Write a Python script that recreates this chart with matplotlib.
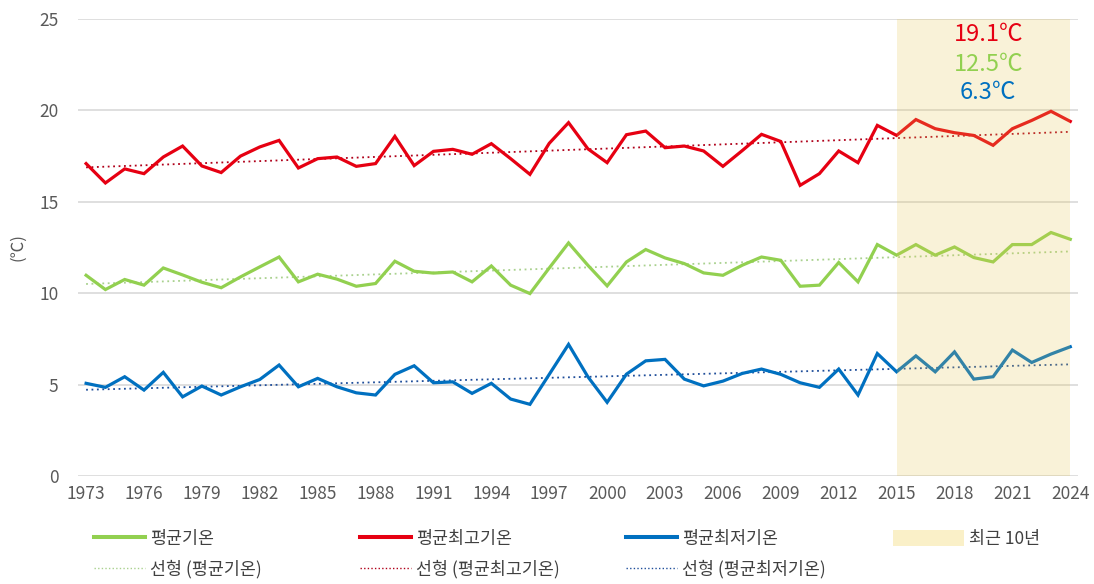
import numpy as np
import matplotlib
matplotlib.use("Agg")
import matplotlib.pyplot as plt
from matplotlib.lines import Line2D
from matplotlib.patches import Patch

plt.rcParams['font.family'] = ['Noto Sans CJK KR', 'DejaVu Sans']

years = list(range(1973, 2025))

t_mean = [10.98, 10.2, 10.75, 10.44, 11.38, 11.0, 10.6, 10.3, 10.89, 11.44,
          11.98, 10.62, 11.04, 10.77, 10.38, 10.53, 11.75, 11.2, 11.1, 11.16,
          10.62, 11.49, 10.44, 9.98, 11.38, 12.75, 11.53, 10.4, 11.71, 12.39,
          11.93, 11.62, 11.11, 10.98, 11.53, 11.98, 11.8, 10.38, 10.44, 11.68,
          10.62, 12.66, 12.08, 12.66, 12.08, 12.53, 11.95, 11.71, 12.66, 12.66,
          13.32, 12.95]

t_max = [17.09, 16.03, 16.8, 16.54, 17.45, 18.05, 16.96, 16.6, 17.5, 18.0,
         18.36, 16.85, 17.36, 17.45, 16.94, 17.09, 18.58, 16.98, 17.76, 17.87,
         17.6, 18.18, 17.36, 16.5, 18.2, 19.33, 17.9, 17.14, 18.67, 18.87,
         17.96, 18.05, 17.78, 16.94, 17.8, 18.69, 18.3, 15.9, 16.54, 17.78,
         17.14, 19.18, 18.63, 19.5, 19.0, 18.78, 18.63, 18.09, 19.0, 19.45,
         19.95, 19.4]

t_min = [5.07, 4.85, 5.43, 4.7, 5.67, 4.33, 4.92, 4.43, 4.88, 5.28,
         6.07, 4.88, 5.34, 4.88, 4.55, 4.43, 5.56, 6.03, 5.1, 5.15,
         4.52, 5.07, 4.21, 3.92, 5.56, 7.2, 5.43, 4.03, 5.57, 6.3,
         6.38, 5.3, 4.93, 5.19, 5.61, 5.85, 5.56, 5.1, 4.85, 5.85,
         4.43, 6.7, 5.7, 6.57, 5.7, 6.79, 5.3, 5.43, 6.89, 6.21,
         6.67, 7.07]

recent_labels = ["19.1℃", "12.5℃", "6.3℃"]
xtick_years = list(range(1973, 2025, 3))
ytick_vals = [0, 5, 10, 15, 20, 25]

series_names = ["평균기온", "평균최고기온", "평균최저기온"]
trend_names = ["선형 (평균기온)", "선형 (평균최고기온)", "선형 (평균최저기온)"]
shade_name = "최근 10년"

c_mean, c_max, c_min = '#92D050', '#E60012', '#0070C0'
ct_mean, ct_max, ct_min = '#A9D18E', '#B0001A', '#1F4E9A'
tick_color = '#595959'
text_color = '#404040'

fig = plt.figure(figsize=(10.94, 5.84), dpi=100)
ax = fig.add_axes([78/1094, (584-476)/584, 1000/1094, (476-19)/584])

yrs = np.array(years, dtype=float)

lines = []
trends = []
for vals, c, ct in [(t_mean, c_mean, ct_mean), (t_max, c_max, ct_max), (t_min, c_min, ct_min)]:
    l, = ax.plot(years, vals, color=c, lw=2.3, solid_joinstyle='miter', zorder=3)
    p = np.polyfit(yrs, np.array(vals), 1)
    tr, = ax.plot(years, np.polyval(p, yrs), color=ct, lw=1.3, ls=(0, (1, 2)), zorder=2)
    lines.append(l)
    trends.append(tr)

shade = ax.axvspan(2015, 2024, ymin=0, ymax=1, facecolor='#E8C850', alpha=0.22,
                   edgecolor='none', zorder=4)

ax.set_xlim(1972.58, 2024.4)
ax.set_ylim(0, 25)
ax.set_yticks(ytick_vals)
ax.set_xticks(xtick_years)
ax.grid(axis='y', color='#D9D9D9', lw=1.2)
ax.set_axisbelow(True)
for s in ax.spines.values():
    s.set_visible(False)
ax.tick_params(axis='both', length=0, labelsize=12.5, colors=tick_color)
ax.tick_params(axis='y', pad=14)
ax.tick_params(axis='x', pad=6.5)
ax.set_ylabel("(℃)", color=tick_color, fontsize=12, labelpad=9)

for txt, c, yv in zip(recent_labels, [c_max, c_mean, c_min], [24.15, 22.5, 21.0]):
    ax.text(2019.75, yv, txt, color=c, fontsize=17, ha='center', va='center', zorder=5)

# legend columns
col_x = [94/1094, 360/1094, 626/1094, 893/1094]
leg_y = 1 - 530/584
groups = [[(lines[0], series_names[0]), (trends[0], trend_names[0])],
          [(lines[1], series_names[1]), (trends[1], trend_names[1])],
          [(lines[2], series_names[2]), (trends[2], trend_names[2])],
          [(Patch(facecolor='#FAF0C8', edgecolor='none'), shade_name)]]
for i, (gx, grp) in enumerate(zip(col_x, groups)):
    hs = []
    for h, lab in grp:
        if isinstance(h, Line2D):
            if h.get_linestyle() == '-':
                hh = Line2D([], [], color=h.get_color(), lw=h.get_linewidth() + 0.6)
            else:
                hh = Line2D([], [], color=h.get_color(), lw=1.0, ls=(0, (1, 1.6)))
        else:
            hh = h
        hs.append((hh, lab))
    fig.legend([h for h, _ in hs], [l for _, l in hs], loc='upper left',
               bbox_to_anchor=(gx, leg_y), frameon=False, fontsize=12.5,
               handlelength=(4.1 if i == 3 else 2.95), handleheight=1.0,
               handletextpad=0.3, labelspacing=0.7,
               labelcolor=text_color, borderpad=0, borderaxespad=0)

fig.savefig("out.png", dpi=100)
